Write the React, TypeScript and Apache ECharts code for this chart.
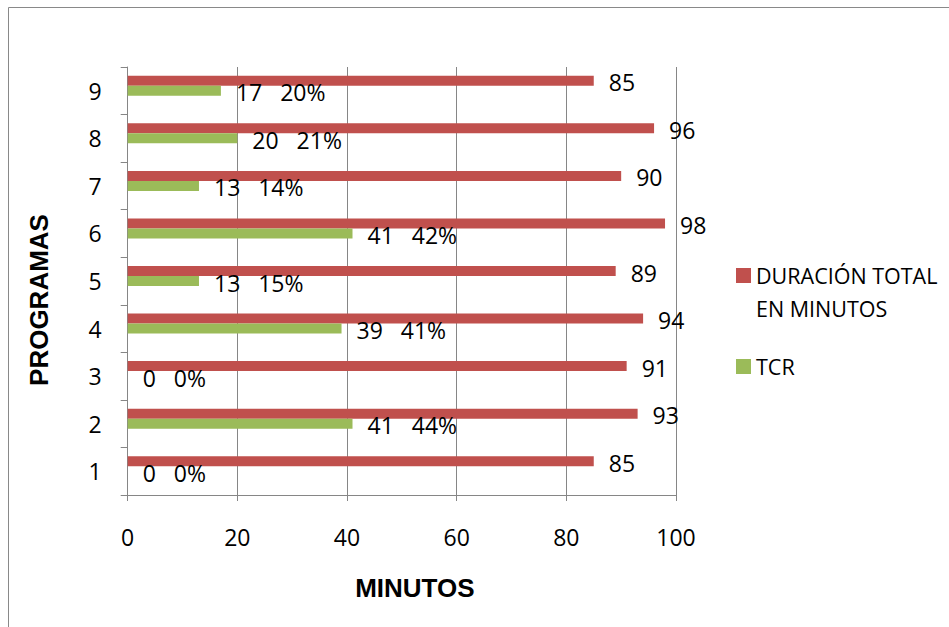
import React, { useEffect, useRef } from "react";
import * as echarts from "echarts";

const categories = ["1", "2", "3", "4", "5", "6", "7", "8", "9"];
const duracionTotal = [85, 93, 91, 94, 89, 98, 90, 96, 85];
const tcr = [0, 41, 0, 39, 13, 41, 13, 20, 17];
const tcrPct = [0, 44, 0, 41, 15, 42, 14, 21, 20];
const xMin = 0;
const xMax = 100;
const xStep = 20;

const NAME_DUR = "DURACIÓN TOTAL EN MINUTOS";
const NAME_TCR = "TCR";

const FONT = "'Open Sans', 'Liberation Sans', sans-serif";
const BOLD_FONT = "'Liberation Sans', Arial, sans-serif";
const GRID_GRAY = "#868686";

export default function App() {
  const ref = useRef<HTMLDivElement>(null);

  useEffect(() => {
    if (!ref.current) return;
    const chart = echarts.init(ref.current, undefined, { renderer: "svg" });

    const labelStyle = {
      show: true,
      position: "right" as const,
      distance: 15,
      offset: [0, 1.5],
      color: "#000",
      fontFamily: FONT,
      fontSize: 23,
    };

    chart.setOption({
      animation: false,
      backgroundColor: "#fff",
      graphic: [
        {
          type: "rect",
          shape: { x: 8.5, y: 7.5, width: 1000, height: 700 },
          style: { fill: "none", stroke: "#898989", lineWidth: 1 },
          silent: true,
        },
      ],
      legend: {
        orient: "vertical",
        left: 731,
        top: 221,
        itemWidth: 15,
        itemHeight: 15,
        itemGap: 25,
        icon: "rect",
        data: [NAME_DUR, NAME_TCR],
        formatter: (name: string) =>
          name === NAME_DUR ? "\nDURACIÓN TOTAL\nEN MINUTOS" : name,
        textStyle: {
          fontFamily: FONT,
          fontSize: 21.5,
          color: "#000",
          lineHeight: 33,
        },
      },
      grid: { left: 127.7, right: 273, top: 67, bottom: 132 },
      xAxis: {
        type: "value",
        min: xMin,
        max: xMax,
        interval: xStep,
        name: "MINUTOS",
        nameLocation: "middle",
        nameGap: 80,
        nameTextStyle: {
          fontFamily: BOLD_FONT,
          fontWeight: "bold",
          fontSize: 26,
          color: "#000",
          padding: [0, 0, 0, 26],
        },
        axisLine: { show: true, lineStyle: { color: GRID_GRAY } },
        axisTick: { show: true, length: 6, lineStyle: { color: GRID_GRAY } },
        axisLabel: {
          margin: 30,
          fontFamily: FONT,
          fontSize: 23,
          color: "#000",
        },
        splitLine: { show: true, lineStyle: { color: GRID_GRAY, width: 1 } },
      },
      yAxis: {
        type: "category",
        data: categories,
        name: "PROGRAMAS",
        nameLocation: "middle",
        nameRotate: 90,
        nameGap: 76,
        nameTextStyle: {
          fontFamily: BOLD_FONT,
          fontWeight: "bold",
          fontSize: 26,
          color: "#000",
          padding: [0, 38, 0, 0],
        },
        axisLine: { show: true, lineStyle: { color: GRID_GRAY } },
        axisTick: { show: true, length: 7, lineStyle: { color: GRID_GRAY } },
        axisLabel: {
          margin: 26,
          fontFamily: FONT,
          fontSize: 23,
          color: "#000",
        },
        splitLine: { show: false },
      },
      series: [
        {
          name: NAME_DUR,
          type: "bar",
          data: duracionTotal,
          barWidth: 10,
          barGap: "0%",
          itemStyle: { color: "#C0504D" },
          label: labelStyle,
        },
        {
          name: NAME_TCR,
          type: "bar",
          data: tcr,
          barWidth: 10,
          barGap: "0%",
          itemStyle: { color: "#9BBB59" },
          label: {
            ...labelStyle,
            formatter: (p: { dataIndex: number }) =>
              `${tcr[p.dataIndex]}   ${tcrPct[p.dataIndex]}%`,
          },
        },
        {
          // empty slot that keeps the pair of bars above the band centre
          name: "slot",
          type: "bar",
          data: categories.map(() => "-"),
          barWidth: 10,
          barGap: "0%",
          silent: true,
        },
      ],
    });

    return () => chart.dispose();
  }, []);

  return (
    <div
      ref={ref}
      style={{ position: "fixed", left: 0, top: 0, width: 949, height: 627 }}
    />
  );
}
